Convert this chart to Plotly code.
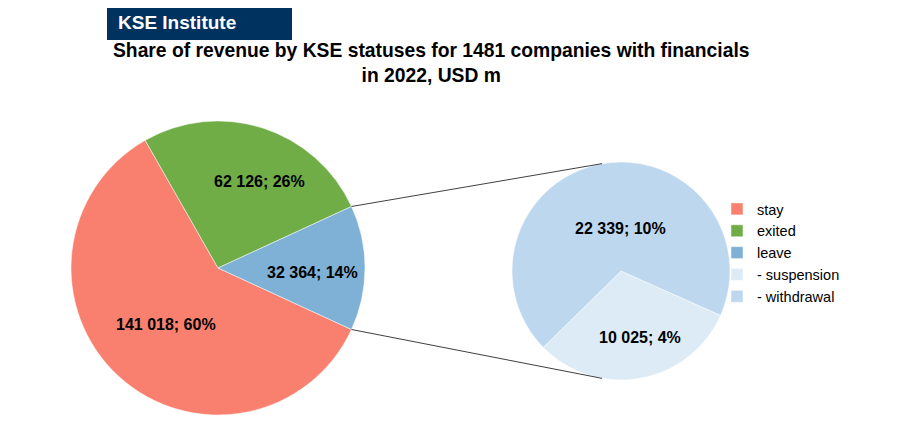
import math
import plotly.graph_objects as go

# main pie
main_labels = ["stay", "exited", "leave"]
main_values = [141018, 62126, 32364]
main_pct = [60, 26, 14]          # shares as printed on the chart

# split of "leave"
sub_labels = ["- suspension", "- withdrawal"]
sub_values = [10025, 22339]
sub_pct = [4, 10]

main_colors = ["#F9806F", "#70AD47", "#7FB0D5"]
sub_colors = ["#DDEBF7", "#BDD7EE"]

W, H = 897, 424
OFF = 8   # page body margin in the screenshot
FONT = "Arial, Liberation Sans, sans-serif"


def lbl(v, p):
    return "<b>" + f"{v:,}".replace(",", " ") + f"; {p}%</b>"


def fx(px):
    return (px - OFF) / W


def fy(py):
    return 1 - (py - OFF) / H


def px_dom(cx, cy, r):
    return dict(x=[fx(cx - r), fx(cx + r)], y=[fy(cy + r), fy(cy - r)])


def mid_angles(values, rotation):
    # math angle (deg, ccw from 3 o'clock) of each slice bisector, slices drawn clockwise
    tot = sum(values)
    out, start = [], rotation
    for v in values:
        span = v / tot * 360
        clock = start + span / 2
        out.append(90 - clock)
        start += span
    return out


c1, r1 = (218, 268), 147
c2, r2 = (621, 271), 109

# leave slice sits centred on 3 o'clock
half_leave = main_values[2] / sum(main_values) * 180
rot_main = 90 + half_leave
rot_sub = 114

fig = go.Figure()
fig.add_trace(go.Pie(
    labels=main_labels, values=main_values, textinfo="none",
    marker=dict(colors=main_colors, line=dict(color="white", width=0.5)),
    sort=False, direction="clockwise", rotation=rot_main,
    domain=px_dom(*c1, r1), hoverinfo="label+value",
))
fig.add_trace(go.Pie(
    labels=sub_labels, values=sub_values, textinfo="none",
    marker=dict(colors=sub_colors, line=dict(color="white", width=0.5)),
    sort=False, direction="clockwise", rotation=rot_sub,
    domain=px_dom(*c2, r2), hoverinfo="label+value",
))

# data labels placed along slice bisectors (radius fraction, pixel nudge)
annotations = []
label_sets = [
    (main_values, main_pct, rot_main, c1, r1, [0.52, 0.62, 0.63], [(0, 0), (14, 0), (2, 4)]),
    (sub_values, sub_pct, rot_sub, c2, r2, [0.66, 0.42], [(6, -4), (8, 3)]),
]
for vals, pcts, rot, c, r, fr, nudge in label_sets:
    for v, p, ang, f, (dx, dy) in zip(vals, pcts, mid_angles(vals, rot), fr, nudge):
        a = math.radians(ang)
        x = c[0] + f * r * math.cos(a) + dx
        y = c[1] - f * r * math.sin(a) + dy
        annotations.append(dict(text=lbl(v, p), xref="paper", yref="paper",
                                x=fx(x), y=fy(y), xanchor="center", yanchor="middle",
                                showarrow=False,
                                font=dict(family=FONT, size=16, color="black")))

# connector lines from edges of "leave" to the secondary pie
shapes = []
for s in (1, -1):
    a = math.radians(half_leave * s)
    b = math.radians(100 * s)
    x0 = c1[0] + r1 * math.cos(a)
    y0 = c1[1] - r1 * math.sin(a)
    x1 = c2[0] + r2 * math.cos(b)
    y1 = c2[1] - r2 * math.sin(b)
    shapes.append(dict(type="line", xref="paper", yref="paper",
                       x0=fx(x0), y0=fy(y0), x1=fx(x1), y1=fy(y1),
                       line=dict(color="#404040", width=1)))

# header box
shapes.append(dict(type="rect", xref="paper", yref="paper",
                   x0=fx(107), x1=fx(292), y0=fy(40), y1=fy(6),
                   fillcolor="#00325F", line=dict(width=0), layer="below"))

annotations += [
    dict(text="<b>KSE Institute</b>", xref="paper", yref="paper",
         x=fx(116), y=fy(22), xanchor="left", yanchor="middle",
         showarrow=False, font=dict(family=FONT, size=19, color="white")),
    dict(text="<b>Share of revenue by KSE statuses for 1481 companies with financials<br>in 2022, USD m</b>",
         xref="paper", yref="paper", x=fx(431), y=fy(63),
         xanchor="center", yanchor="middle", showarrow=False,
         font=dict(family=FONT, size=19.3, color="black")),
]

fig.update_layout(
    width=W, height=H,
    margin=dict(l=0, r=0, t=0, b=0),
    paper_bgcolor="white", plot_bgcolor="white",
    font=dict(family=FONT, size=14, color="black"),
    shapes=shapes,
    annotations=annotations,
    legend=dict(x=fx(717), y=fy(193), xanchor="left", yanchor="top",
                font=dict(family=FONT, size=14.5, color="black"),
                bgcolor="rgba(0,0,0,0)", traceorder="normal"),
)

fig.write_html("out.html")
